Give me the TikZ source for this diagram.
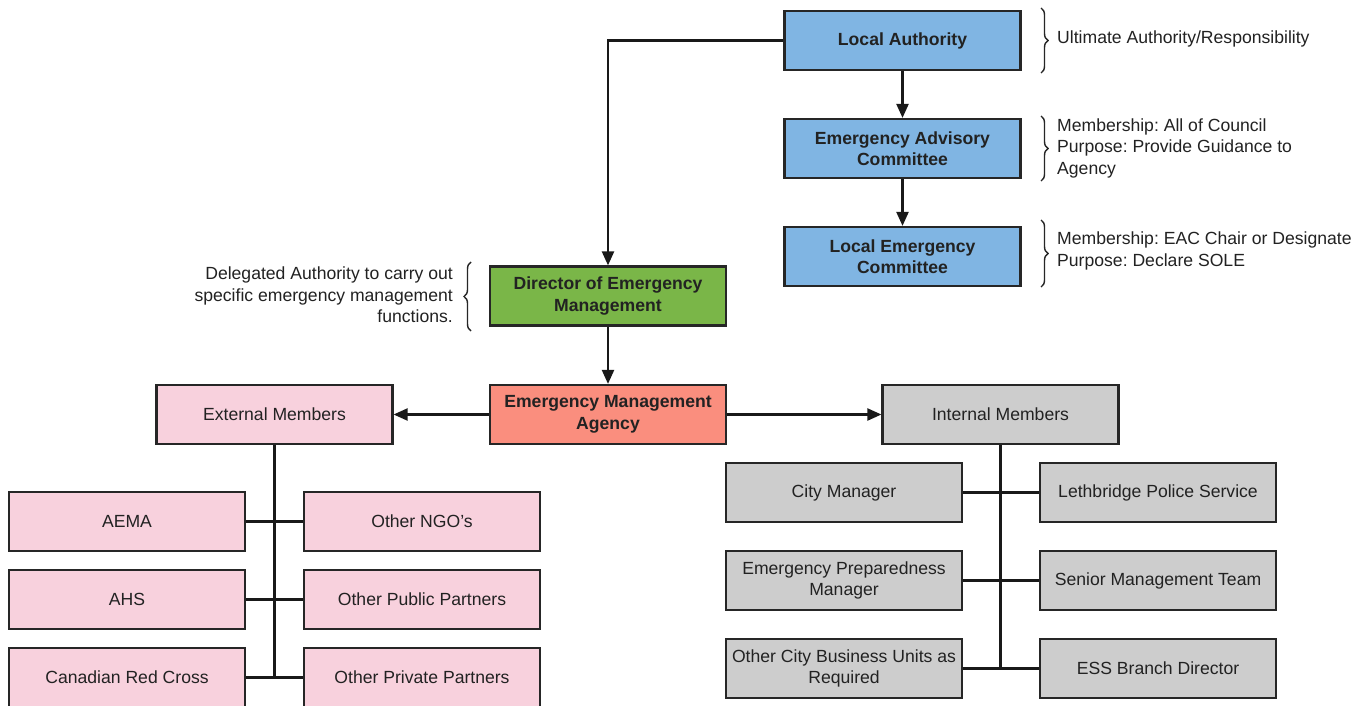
\documentclass[tikz,border=0pt]{standalone}
\usepackage{fontspec}
\setmainfont{Liberation Sans}
\frenchspacing
\usetikzlibrary{arrows.meta,decorations.pathreplacing}
\definecolor{txt}{HTML}{222222}
\definecolor{authblue}{HTML}{80B5E3}
\definecolor{dirgreen}{HTML}{7AB648}
\definecolor{agsalmon}{HTML}{FA8E7E}
\definecolor{extpink}{HTML}{F8D1DD}
\definecolor{intgray}{HTML}{CDCDCD}
\tikzset{
  box/.style={draw=black!85, line width=2.2pt, minimum width=236pt, minimum height=59pt,
    inner sep=2pt, align=center, text=txt, font=\fontsize{17.6pt}{21.5pt}\selectfont},
  hdr/.style={box, font=\fontsize{17.6pt}{21.5pt}\selectfont\bfseries},
  note/.style={text=txt, inner sep=0pt, font=\fontsize{17.6pt}{21.5pt}\selectfont},
  arrowline/.style={line width=2.2pt, draw=black!90, -{Triangle[length=14pt,width=12pt]}},
  link/.style={line width=2.2pt, draw=black!90},
  bracket/.style={line width=1.4pt, draw=black!85, decorate,
    decoration={brace, amplitude=7pt}},
}
\begin{document}
\begin{tikzpicture}[x=1pt,y=-1pt]
\useasboundingbox (0,0) rectangle (1364,706);
\clip (0,0) rectangle (1364,706);
\fill[white] (0,0) rectangle (1364,706);

% authority chain
\node[hdr, fill=authblue] (la)  at (902.5,40.5)  {Local Authority};
\node[hdr, fill=authblue] (eac) at (902.5,148.5) {Emergency Advisory\\Committee};
\node[hdr, fill=authblue] (lec) at (902.5,256.5) {Local Emergency\\Committee};

% director and agency
\node[hdr, fill=dirgreen] (dir) at (608,296)   {Director of Emergency\\Management};
\node[hdr, fill=agsalmon] (ema) at (608,414.5) {Emergency Management\\Agency};

% member groups
\node[box, fill=extpink] (ext) at (274.5,414.5)  {External Members};
\node[box, fill=intgray] (int) at (1000.5,414.5) {Internal Members};

% external members
\node[box, fill=extpink] (aema)  at (127,521.5) {AEMA};
\node[box, fill=extpink] (ngo)   at (422,521.5) {Other NGO's};
\node[box, fill=extpink] (ahs)   at (127,599.5) {AHS};
\node[box, fill=extpink] (pub)   at (422,599.5) {Other Public Partners};
\node[box, fill=extpink] (crc)   at (127,677.5) {Canadian Red Cross};
\node[box, fill=extpink] (priv)  at (422,677.5) {Other Private Partners};

% internal members
\node[box, fill=intgray] (cm)    at (844,492.5)  {City Manager};
\node[box, fill=intgray] (lps)   at (1158,492.5) {Lethbridge Police Service};
\node[box, fill=intgray] (epm)   at (844,580.5)  {Emergency Preparedness\\Manager};
\node[box, fill=intgray] (smt)   at (1158,580.5) {Senior Management Team};
\node[box, fill=intgray] (ocb)   at (844,668.5)  {Other City Business Units as\\Required};
\node[box, fill=intgray] (ess)   at (1158,668.5) {ESS Branch Director};

% arrows
\draw[arrowline] (la.south) -- (eac.north);
\draw[arrowline] (eac.south) -- (lec.north);
\draw[arrowline] (la.west) -| (dir.north);
\draw[arrowline] (dir.south) -- (ema.north);
\draw[arrowline] (ema.west) -- (ext.east);
\draw[arrowline] (ema.east) -- (int.west);

% external tree
\coordinate (extend) at (ext.south |- crc.east);
\draw[link] (ext.south) -- (extend);
\draw[link] (aema.east) -- (ngo.west);
\draw[link] (ahs.east) -- (pub.west);
\draw[link] (crc.east) -- (priv.west);

% internal tree
\coordinate (intend) at (int.south |- ocb.east);
\draw[link] (int.south) -- (intend);
\draw[link] (cm.east) -- (lps.west);
\draw[link] (epm.east) -- (smt.west);
\draw[link] (ocb.east) -- (ess.west);

% braces and notes
\draw[bracket] (1041,8) -- (1041,73);
\node[note, anchor=west] (n1) at (1057,39) {Ultimate Authority/Responsibility};
\draw[bracket] (1041,116) -- (1041,181);
\node[note, anchor=west, align=left] (n2) at (1057,148) {Membership: All of Council\\Purpose: Provide Guidance to\\Agency};
\draw[bracket] (1041,220) -- (1041,287);
\node[note, anchor=west, align=left] (n3) at (1057,251) {Membership: EAC Chair or Designate\\Purpose: Declare SOLE};
\draw[bracket] (471,331) -- (471,262);
\node[note, anchor=east, align=right] (n4) at (453,295) {Delegated Authority to carry out\\specific emergency management\\functions.};
\end{tikzpicture}
\end{document}
